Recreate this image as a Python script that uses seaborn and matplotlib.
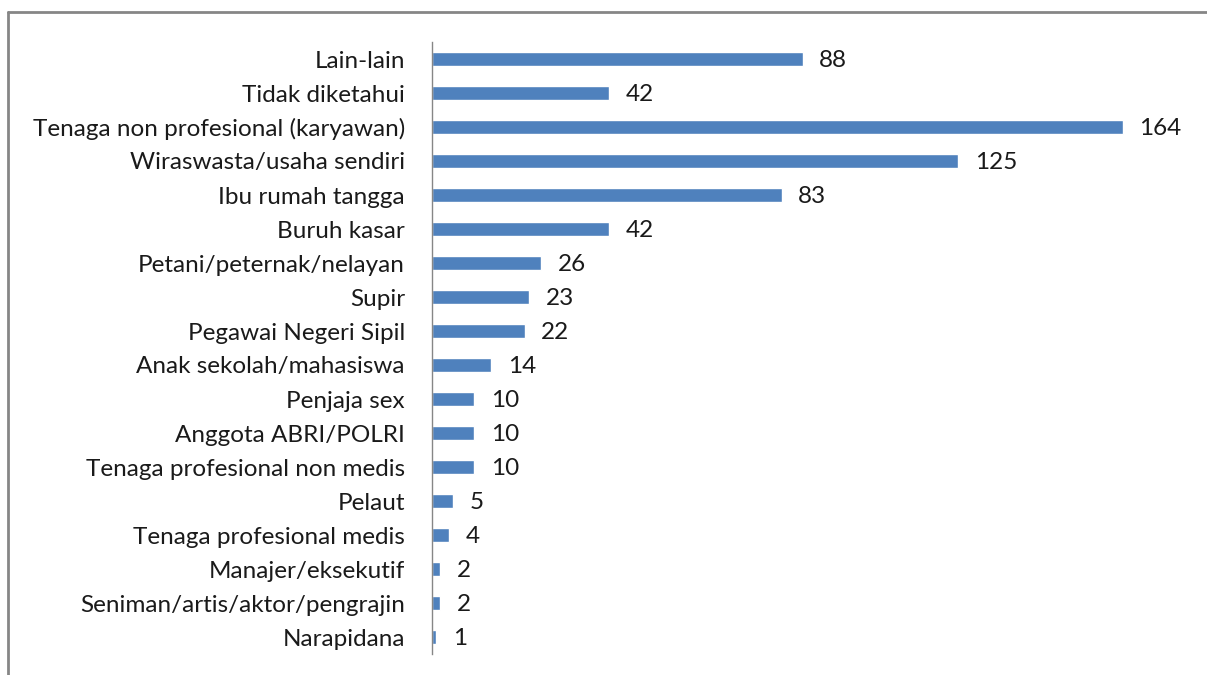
import matplotlib
matplotlib.use("Agg")
import matplotlib.pyplot as plt
import seaborn as sns
import pandas as pd
from matplotlib.lines import Line2D

categories = [
    "Lain-lain", "Tidak diketahui", "Tenaga non profesional (karyawan)",
    "Wiraswasta/usaha sendiri", "Ibu rumah tangga", "Buruh kasar",
    "Petani/peternak/nelayan", "Supir", "Pegawai Negeri Sipil",
    "Anak sekolah/mahasiswa", "Penjaja sex", "Anggota ABRI/POLRI",
    "Tenaga profesional non medis", "Pelaut", "Tenaga profesional medis",
    "Manajer/eksekutif", "Seniman/artis/aktor/pengrajin", "Narapidana",
]
values = [88, 42, 164, 125, 83, 42, 26, 23, 22, 14, 10, 10, 10, 5, 4, 2, 2, 1]

df = pd.DataFrame({"cat": categories, "val": values})

sns.set_theme(style="white")
plt.rcParams['font.family'] = ['Lato', 'DejaVu Sans']

fig = plt.figure(figsize=(12.07, 6.75), dpi=100)
ax = fig.add_axes([432/1207, 1-654/675, (1190-432)/1207, (654-42)/675])

sns.barplot(data=df, x="val", y="cat", orient="h", color="#4F81BD",
            saturation=1, width=0.42, ax=ax)

ax.set_xlim(0, 180)
ax.set_ylim(17.5, -0.5)
ax.set_xlabel("")
ax.set_ylabel("")
ax.set_xticks([])
ax.tick_params(axis="y", length=0, pad=19.5, labelsize=17.5, labelcolor="#1a1a1a")
for s in ["top", "right", "bottom"]:
    ax.spines[s].set_visible(False)
ax.spines["left"].set_color("#868686")
ax.spines["left"].set_linewidth(1.0)

for i, v in enumerate(values):
    ax.annotate(str(v), xy=(v, i), xytext=(12, -1), textcoords="offset points",
                ha="left", va="center", fontsize=17.5, color="#1a1a1a")

# chart frame (top and left)
fig.add_artist(Line2D([8/1207, 1], [1-12/675, 1-12/675], transform=fig.transFigure,
                      color="#868686", lw=2))
fig.add_artist(Line2D([8/1207, 8/1207], [0, 1-12/675], transform=fig.transFigure,
                      color="#868686", lw=2))

fig.savefig("out.png", dpi=100)
